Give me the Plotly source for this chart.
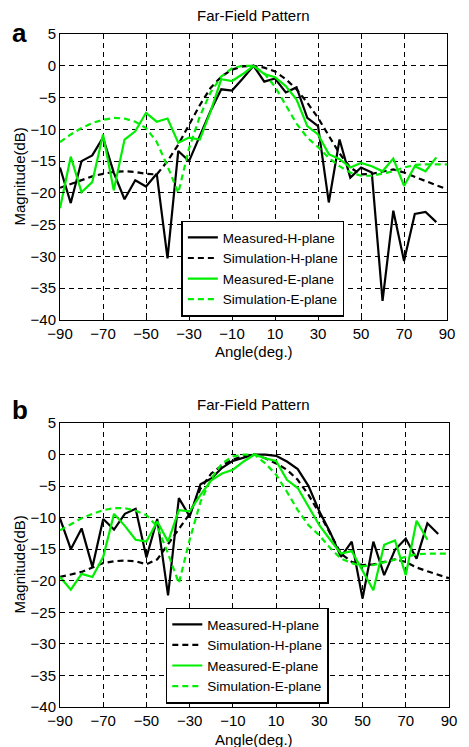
import plotly.graph_objects as go

# ---------------- data ----------------
angles_meas = [-90, -85, -80, -75, -70, -65, -60, -55, -50, -45, -40, -35, -30, -25, -20, -15, -10, -5,
               0, 5, 10, 15, 20, 25, 30, 35, 40, 45, 50, 55, 60, 65, 70, 75, 80, 85]
angles_sim = [-90, -85, -80, -75, -70, -65, -60, -55, -50, -45, -40, -35, -30, -25, -20, -15, -10, -5,
              0, 5, 10, 15, 20, 25, 30, 35, 40, 45, 50, 55, 60, 65, 70, 75, 80, 85, 90]
angles_meas_e_b = [-90, -85, -80, -75, -70, -65, -60, -55, -50, -45, -40, -35, -30, -25, -20, -15, -10, -5,
                   0, 5, 10, 15, 20, 25, 30, 35, 40, 45, 50, 55, 60, 65, 70, 75, 80]

# panel a
a_meas_h = [-16.0, -21.6, -15.0, -14.1, -11.3, -16.8, -21.0, -18.0, -19.0, -17.0, -30.3, -13.4, -15.0, -11.0,
            -7.1, -3.7, -3.9, -2.0, 0.0, -2.5, -2.0, -4.2, -3.4, -8.2, -9.5, -21.5, -11.6, -17.6, -16.0, -16.8,
            -37.0, -22.8, -30.7, -23.3, -23.0, -24.6]
a_sim_h = [-19.2, -18.6, -18.0, -17.4, -17.0, -16.7, -16.6, -16.7, -17.0, -17.1, -15.0, -12.4, -9.3, -6.2,
           -3.5, -1.7, -0.6, -0.1, 0.0, -0.3, -0.9, -2.1, -3.7, -5.8, -8.2, -11.0, -13.8, -16.0, -17.1, -17.0,
           -16.6, -16.3, -16.8, -17.5, -18.2, -18.8, -19.4]
a_meas_e = [-22.4, -14.3, -19.9, -18.3, -10.8, -19.6, -11.6, -10.3, -7.4, -8.8, -8.3, -12.1, -11.3, -11.6,
            -7.2, -2.1, -2.4, -1.3, 0.0, -1.3, -1.8, -3.2, -5.3, -9.5, -10.8, -13.9, -14.7, -16.0, -15.3, -15.8,
            -16.6, -14.6, -18.9, -15.8, -16.6, -14.4]
a_sim_e = [-12.0, -10.8, -9.8, -9.0, -8.5, -8.2, -8.3, -8.8, -9.8, -12.0, -15.8, -20.0, -13.0, -8.0, -4.2,
           -1.7, -0.4, 0.0, 0.0, -1.2, -3.3, -6.2, -9.1, -11.3, -12.8, -14.5, -15.8, -16.8, -17.3, -17.3, -17.0,
           -16.6, -16.0, -15.6, -15.5, -15.5, -15.5]

# panel b
b_meas_h = [-10.1, -15.0, -11.7, -17.8, -10.2, -11.9, -9.4, -8.6, -16.3, -10.2, -22.3, -6.9, -9.8, -4.7,
            -3.8, -2.1, -1.0, -0.5, 0.0, 0.0, -0.2, -1.1, -2.3, -5.0, -9.0, -12.3, -16.2, -13.8, -22.8, -13.8,
            -19.1, -15.1, -13.3, -16.5, -10.9, -12.6]
b_sim_h = [-19.4, -19.0, -18.6, -17.9, -17.2, -16.9, -16.8, -16.9, -17.4, -16.6, -14.2, -11.6, -9.4, -5.4,
           -3.0, -1.7, -0.8, -0.2, 0.0, -0.6, -1.4, -2.4, -4.0, -6.4, -9.3, -12.5, -15.7, -17.0, -17.5, -17.4,
           -17.0, -16.6, -17.0, -17.9, -18.5, -19.1, -19.6]
b_meas_e = [-19.4, -21.4, -18.9, -19.4, -16.2, -9.4, -11.3, -13.5, -13.8, -10.6, -13.8, -8.8, -9.0, -6.4,
            -4.1, -3.0, -2.4, -1.1, 0.0, -0.6, -1.0, -4.0, -5.3, -8.3, -11.2, -13.5, -15.7, -15.3, -18.3, -21.5,
            -14.3, -13.6, -19.1, -10.5, -13.5]
b_sim_e = [-12.0, -11.0, -10.1, -9.4, -8.8, -8.5, -8.5, -8.9, -9.6, -11.4, -15.7, -20.4, -13.5, -7.5, -3.8,
           -1.4, -0.3, 0.0, 0.0, -1.4, -3.2, -5.9, -8.8, -11.2, -12.8, -14.8, -16.5, -17.2, -17.7, -17.5, -17.1,
           -16.7, -16.2, -15.8, -15.7, -15.7, -15.7]

x_ticks = [-90, -70, -50, -30, -10, 10, 30, 50, 70, 90]
y_ticks = [-40, -35, -30, -25, -20, -15, -10, -5, 0, 5]
names = ["Measured-H-plane", "Simulation-H-plane", "Measured-E-plane", "Simulation-E-plane"]

# ---------------- styling ----------------
FONT = "Arial, Liberation Sans, sans-serif"
GREEN = "rgb(0,238,0)"
DASH = "6px,4px"

fig = go.Figure()


def add_panel(xs_list, ys_list, xaxis, yaxis, legend):
    styles = [("black", "solid"), ("black", DASH), (GREEN, "solid"), (GREEN, DASH)]
    for name, xs, ys, (col, dash) in zip(names, xs_list, ys_list, styles):
        fig.add_trace(go.Scatter(x=xs, y=ys, mode="lines", name=name,
                                 line=dict(color=col, width=2.2, dash=dash),
                                 xaxis=xaxis, yaxis=yaxis, legend=legend))


add_panel([angles_meas, angles_sim, angles_meas, angles_sim],
          [a_meas_h, a_sim_h, a_meas_e, a_sim_e], "x", "y", "legend")
add_panel([angles_meas, angles_sim, angles_meas_e_b, angles_sim],
          [b_meas_h, b_sim_h, b_meas_e, b_sim_e], "x2", "y2", "legend2")

axis_common = dict(showline=True, linecolor="black", linewidth=1, mirror="ticks",
                   ticks="inside", ticklen=4, tickcolor="black",
                   showgrid=True, gridcolor="black", gridwidth=1, griddash="5px,4px",
                   zeroline=False, tickfont=dict(family=FONT, size=15, color="black"))

# page body has an 8px margin: the figure is laid out 8px in from the window's top-left
fig.update_layout(
    width=461, height=739,
    margin=dict(l=52, r=15, t=26, b=40),
    paper_bgcolor="white", plot_bgcolor="white",
    font=dict(family=FONT, color="black"),
    xaxis=dict(domain=[0, 0.995], range=[-90, 90], tickvals=x_ticks, anchor="y", **axis_common),
    yaxis=dict(domain=[0.575, 1], range=[-40, 5], tickvals=y_ticks, anchor="x", **axis_common),
    xaxis2=dict(domain=[0, 1], range=[-90, 90], tickvals=x_ticks, anchor="y2", **axis_common),
    yaxis2=dict(domain=[0, 0.422], range=[-40, 5], tickvals=y_ticks, anchor="x2", **axis_common),
    legend=dict(x=0.312, y=0.580, xanchor="left", yanchor="bottom",
                bgcolor="white", bordercolor="black", borderwidth=1.5,
                font=dict(family=FONT, size=13.5, color="black"), tracegroupgap=0),
    legend2=dict(x=0.272, y=0.005, xanchor="left", yanchor="bottom",
                 bgcolor="white", bordercolor="black", borderwidth=1.5,
                 font=dict(family=FONT, size=13.5, color="black"), tracegroupgap=0),
    showlegend=True,
)

H = 673.0


def py(pix):
    return (707 - pix) / H


def px(pix):
    return (pix - 60) / 394.0


anns = [
    dict(text="Far-Field Pattern", x=px(256), y=py(15), font=dict(size=15)),
    dict(text="Far-Field Pattern", x=px(256), y=py(404), font=dict(size=15)),
    dict(text="<b>a</b>", x=px(19), y=py(33), font=dict(size=26)),
    dict(text="<b>b</b>", x=px(19), y=py(410), font=dict(size=26)),
    dict(text="Angle(deg.)", x=px(256), y=py(351), font=dict(size=15)),
    dict(text="Angle(deg.)", x=px(256), y=py(739), font=dict(size=15)),
    dict(text="Magnitude(dB)", x=px(18), y=py(177), font=dict(size=15), textangle=-90),
    dict(text="Magnitude(dB)", x=px(18), y=py(565), font=dict(size=15), textangle=-90),
]
for a in anns:
    a.update(xref="paper", yref="paper", showarrow=False, xanchor="center", yanchor="middle")
    a["font"].update(family=FONT, color="black")
    fig.add_annotation(**a)

fig.write_html("out.html")
